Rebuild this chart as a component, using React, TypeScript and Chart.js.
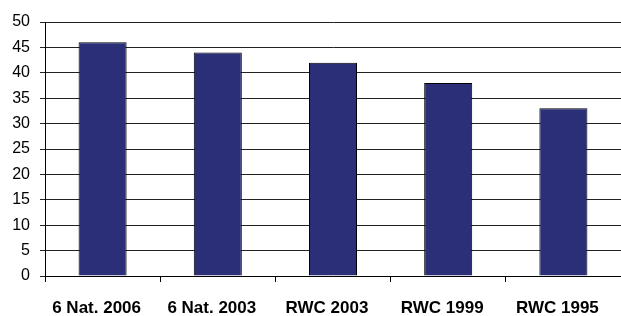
import React, { useEffect, useRef } from "react";
import { Chart, registerables } from "chart.js";

Chart.register(...registerables);

const categories = ["6 Nat. 2006", "6 Nat. 2003", "RWC 2003", "RWC 1999", "RWC 1995"];
const values = [46, 44, 42, 38, 33];
const yMin = 0;
const yMax = 50;
const yStep = 5;

export default function App() {
  const ref = useRef<HTMLCanvasElement>(null);
  useEffect(() => {
    document.body.style.margin = "0";
    const chart = new Chart(ref.current!, {
      type: "bar",
      data: {
        labels: categories,
        datasets: [
          {
            data: values,
            backgroundColor: "#2b2f78",
            borderColor: "#000",
            borderWidth: 1,
            categoryPercentage: 1,
            barPercentage: 0.417,
          },
        ],
      },
      options: {
        responsive: false,
        animation: false,
        layout: { padding: { top: 22, right: 0, left: 0, bottom: 0 } },
        plugins: { legend: { display: false }, tooltip: { enabled: false } },
        scales: {
          x: {
            grid: {
              drawOnChartArea: false,
              drawTicks: true,
              tickLength: 6,
              color: "#000",
              offset: true,
            },
            border: { color: "#000", width: 1 },
            ticks: {
              color: "#000",
              font: { family: "Liberation Sans, Arial, sans-serif", size: 17, weight: "bold" },
              padding: 16,
              labelOffset: -6,
              maxRotation: 0,
              autoSkip: false,
            },
            afterFit: (s: any) => {
              s.height = 40;
            },
          },
          y: {
            min: yMin,
            max: yMax,
            grid: { color: "#222", tickLength: 5, drawTicks: true },
            border: { color: "#000", width: 1 },
            ticks: {
              stepSize: yStep,
              color: "#000",
              font: { family: "Liberation Sans, Arial, sans-serif", size: 16 },
              padding: 10,
            },
            afterFit: (s: any) => {
              s.width = 45;
            },
          },
        },
      },
    });
    return () => chart.destroy();
  }, []);
  return <canvas ref={ref} width={621} height={316} style={{ display: "block" }} />;
}
